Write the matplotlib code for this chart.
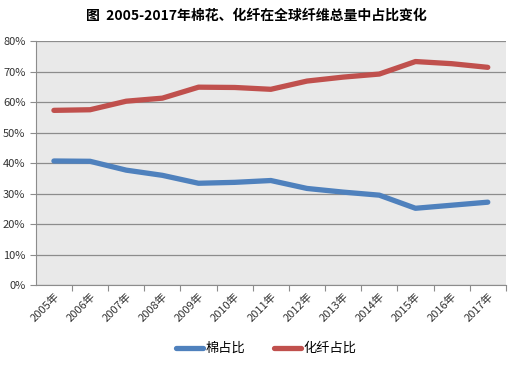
import matplotlib
matplotlib.use("Agg")
import matplotlib.pyplot as plt
from matplotlib.ticker import PercentFormatter

plt.rcParams['font.family'] = ['Noto Sans CJK SC', 'DejaVu Sans']

years = [str(y) + "年" for y in range(2005, 2018)]
cotton = [40.7, 40.6, 37.7, 36.0, 33.4, 33.7, 34.3, 31.7, 30.5, 29.5, 25.2, 26.2, 27.2]
fiber = [57.3, 57.5, 60.3, 61.3, 64.9, 64.8, 64.2, 66.9, 68.2, 69.2, 73.3, 72.6, 71.4]

fig = plt.figure(figsize=(5.12, 3.67), dpi=100)
ax = fig.add_axes([0.070, 0.223, 0.918, 0.665])
ax.set_facecolor("#e9e9e9")

x = range(len(years))
ax.plot(x, cotton, color="#4f81bd", lw=3.8, solid_capstyle="round", label="棉占比")
ax.plot(x, fiber, color="#c0504d", lw=3.8, solid_capstyle="round", label="化纤占比")

ax.set_xlim(-0.5, len(years) - 0.5)
ax.set_ylim(0, 80)
ax.set_yticks(range(0, 81, 10))
ax.yaxis.set_major_formatter(PercentFormatter(decimals=0))
ax.grid(axis="y", color="#8c8c8c", lw=0.9)
ax.set_axisbelow(True)

ax.set_xticks([i + 0.5 for i in x], minor=False)
ax.set_xticklabels([])
ax.set_xticks(list(x), minor=True)
ax.set_xticklabels(years, minor=True, rotation=45, ha="right", rotation_mode="anchor", fontsize=8, color="#333333")
ax.tick_params(axis="x", which="minor", length=0, pad=4)
ax.tick_params(axis="x", which="major", length=4, color="#8c8c8c")
ax.tick_params(axis="y", length=4, color="#8c8c8c", labelsize=8, labelcolor="#333333")

for s in ["top", "right"]:
    ax.spines[s].set_visible(False)
ax.spines["left"].set_color("#8c8c8c")
ax.spines["bottom"].set_color("#8c8c8c")

fig.suptitle("图  2005-2017年棉花、化纤在全球纤维总量中占比变化", y=0.975, fontsize=10, fontweight="bold")
fig.legend(loc="lower center", bbox_to_anchor=(0.52, 0.0), ncol=2, frameon=False, fontsize=9.5,
           handlelength=2.0, handletextpad=0.2, columnspacing=2.2)

fig.savefig("out.png", dpi=100)
